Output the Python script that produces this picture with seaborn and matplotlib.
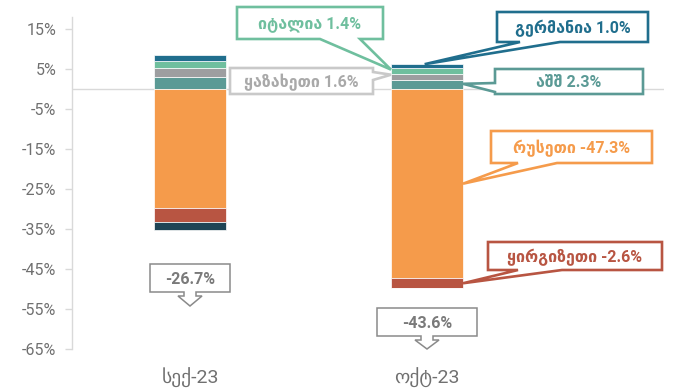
import matplotlib
matplotlib.use("Agg")
import matplotlib.pyplot as plt
from matplotlib.patches import Polygon
import numpy as np
import seaborn as sns

# ---- data -------------------------------------------------------------
periods = ["სექ-23", "ოქტ-23"]

# contributions to growth, percentage points
usa = [3.2, 2.3]
kazakhstan = [2.2, 1.6]
italy = [1.8, 1.4]
germany = [1.3, 1.0]
russia = [-29.7, -47.3]
kyrgyzstan = [-3.6, -2.6]
other = [-1.9, 0.0]

names = {
    "usa": "აშშ",
    "kazakhstan": "ყაზახეთი",
    "italy": "იტალია",
    "germany": "გერმანია",
    "russia": "რუსეთი",
    "kyrgyzstan": "ყირგიზეთი",
    "other": "სხვა",
}

y_ticks = [15, 5, -5, -15, -25, -35, -45, -55, -65]

# ---- style ------------------------------------------------------------
sns.set_style("white")
plt.rcParams["font.family"] = ["Roboto", "DejaVu Sans"]

colors = {
    "usa": "#5b9a95",
    "kazakhstan": "#9d9ea0",
    "italy": "#6fbf9e",
    "germany": "#206e8d",
    "russia": "#f59b4b",
    "kyrgyzstan": "#b85542",
    "other": "#1e4455",
}

W, H = 681, 390
fig = plt.figure(figsize=(W / 100, H / 100), dpi=100)

y_lo, y_hi = -65, 18
x_lo, x_hi = -0.5, 2.0
ax = fig.add_axes([71.5 / W, 1 - 348.7 / H, (664 - 71.5) / W, (348.7 - 17.5) / H])

BAR_W = 0.304

positive = [("usa", usa), ("kazakhstan", kazakhstan), ("italy", italy), ("germany", germany)]
negative = [("russia", russia), ("kyrgyzstan", kyrgyzstan), ("other", other)]

segments = {}  # key -> (bottom array, value array)
for group in (positive, negative):
    base = np.zeros(len(periods))
    for key, vals in group:
        vals = np.asarray(vals, dtype=float)
        sns.barplot(x=periods, y=vals, bottom=base, color=colors[key], width=BAR_W,
                    saturation=1, errorbar=None, edgecolor="white", linewidth=0.5,
                    ax=ax, zorder=3)
        segments[key] = (base.copy(), vals)
        base = base + vals

totals = sum(np.asarray(v, dtype=float) for _, v in positive + negative)

ax.axhline(0, color="#d9d9d9", lw=1, zorder=1)
ax.set_xlim(x_lo, x_hi)
ax.set_ylim(y_lo, y_hi)
ax.set_yticks(y_ticks)
ax.set_yticklabels([f"{t}%" for t in y_ticks])
ax.set_xticks(range(len(periods)))
ax.set_xticklabels(periods)
ax.set_xlabel("")
ax.set_ylabel("")
for side in ("top", "right", "bottom"):
    ax.spines[side].set_visible(False)
ax.spines["left"].set_color("#d9d9d9")
ax.spines["left"].set_linewidth(1)
ax.tick_params(axis="y", length=5, width=1, color="#d9d9d9", labelcolor="#707070",
               labelsize=11.5, pad=6, left=True)
ax.tick_params(axis="x", length=0, labelcolor="#707070", labelsize=14, pad=14)
fig.canvas.draw()


# ---- callouts ---------------------------------------------------------
def fig_xy(px, py):
    return (px / W, 1 - py / H)


def data_px(x, y):
    d = ax.transData.transform((x, y))
    f = fig.transFigure.inverted().transform(d)
    return f[0] * W, (1 - f[1]) * H


def callout(box, side, base, tip, edge, text, text_color, lw=1.9, size=11.5):
    L, T, R, B = box
    a, b = base
    if side == "bottom":
        pts = [(L, T), (R, T), (R, B), (b, B), tip, (a, B), (L, B)]
    elif side == "right":
        pts = [(L, T), (R, T), (R, a), tip, (R, b), (R, B), (L, B)]
    else:  # left
        pts = [(L, T), (R, T), (R, B), (L, B), (L, b), tip, (L, a)]
    poly = Polygon([fig_xy(*p) for p in pts], closed=True, transform=fig.transFigure,
                   facecolor="white", edgecolor=edge, lw=lw, joinstyle="miter", zorder=5)
    fig.add_artist(poly)
    fig.text(*fig_xy((L + R) / 2, (T + B) / 2 + 1), text, ha="center", va="center",
             color=text_color, fontweight="bold", fontsize=size, zorder=6)


# box (left, top, right, bottom) in pixels, side of the pointer, pointer base,
# anchor on the bar: 'l'/'r'/'c' edge and fraction along the segment
layout = {
    "italy": ((237, 7, 383, 39), "bottom", (320, 360), ("l", 0.75)),
    "germany": ((497, 12, 648, 42), "bottom", (520, 560), ("c", 1.0)),
    "kazakhstan": ((230, 68, 373, 94), "right", (72, 80), ("l", 0.85)),
    "usa": ((495, 69, 643, 94), "left", (83, 92), ("r", 0.6)),
    "russia": ((491, 131, 652, 163), "bottom", (518, 557), ("r", 0.5)),
    "kyrgyzstan": ((488, 242, 662, 270), "bottom", (518, 562), ("r", 0.5)),
}
edge_colors = dict(colors)
edge_colors["kazakhstan"] = "#c9c9c9"
text_colors = dict(colors)
text_colors["kazakhstan"] = "#a9a9a9"

i = 1
for key, (box, side, base, (edge_pos, frac)) in layout.items():
    bottom, vals = segments[key]
    xa = {"l": i - BAR_W / 2, "r": i + BAR_W / 2, "c": i - 0.01}[edge_pos]
    ya = bottom[i] + vals[i] * frac
    tip = data_px(xa, ya)
    label = f"{names[key]} {vals[i]:.1f}%"
    callout(box, side, base, tip, edge_colors[key], label, text_colors[key])


# total change: boxed value with a downward arrow
def total_box(i, box_top, box_h, box_w, tip_y, text):
    cx, _ = data_px(i, 0)
    L, R = cx - box_w / 2, cx + box_w / 2
    T, B = box_top, box_top + box_h
    sw, hw, sl = 6, 12, 4
    pts = [(L, T), (R, T), (R, B), (cx + sw, B), (cx + sw, B + sl), (cx + hw, B + sl),
           (cx, tip_y), (cx - hw, B + sl), (cx - sw, B + sl), (cx - sw, B), (L, B)]
    poly = Polygon([fig_xy(*p) for p in pts], closed=True, transform=fig.transFigure,
                   facecolor="white", edgecolor="#8a8a8a", lw=1.1, joinstyle="miter", zorder=5)
    fig.add_artist(poly)
    fig.text(*fig_xy(cx, (T + B) / 2 + 1), text, ha="center", va="center",
             color="#7a7a7a", fontweight="bold", fontsize=11.5, zorder=6)


total_box(0, 264, 28, 80, 306, f"{totals[0]:.1f}%")
total_box(1, 308, 28, 100, 349, f"{totals[1]:.1f}%")

fig.savefig("out.png", dpi=100)
